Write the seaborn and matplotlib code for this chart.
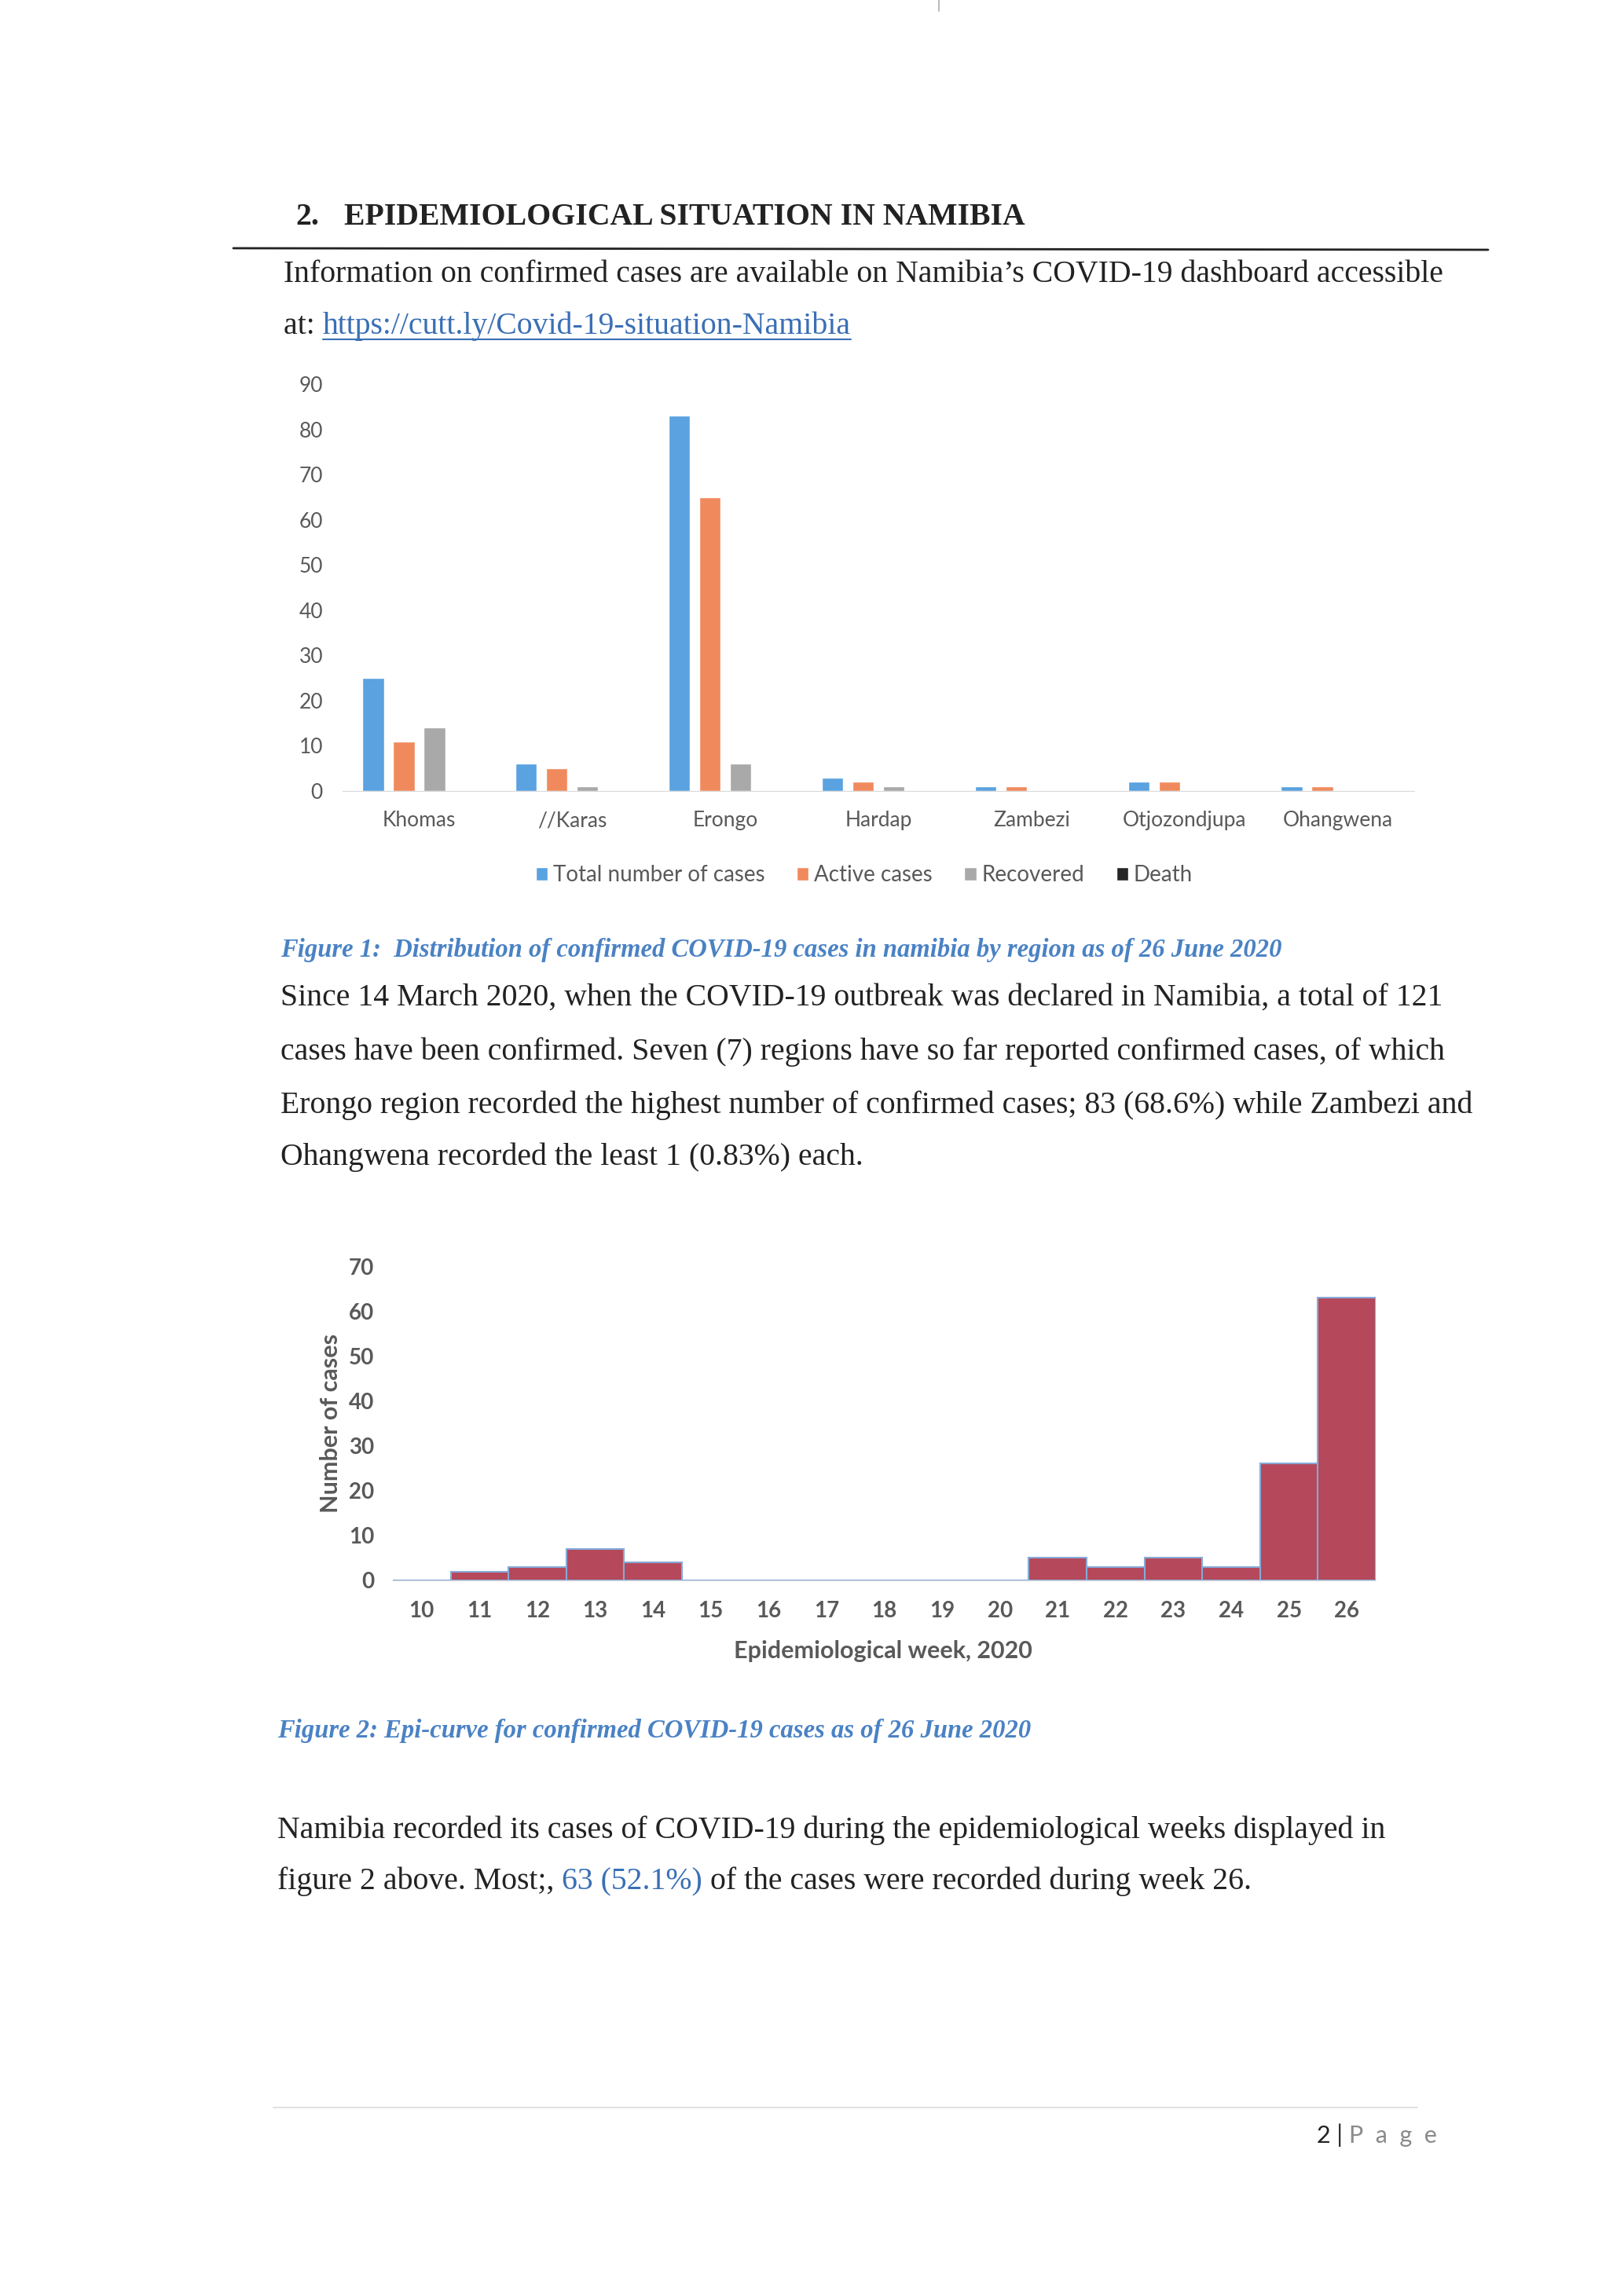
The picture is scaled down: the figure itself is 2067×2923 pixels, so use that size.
import pandas as pd
import matplotlib.pyplot as plt
import seaborn as sns
from matplotlib.lines import Line2D

sns.set_style("white")
plt.rcParams['font.family'] = ['Liberation Serif', 'DejaVu Serif']

# chart 1 data
regions = ["Khomas", "//Karas", "Erongo", "Hardap", "Zambezi", "Otjozondjupa", "Ohangwena"]
series_names = ["Total number of cases", "Active cases", "Recovered", "Death"]
total_cases = [25, 6, 83, 3, 1, 2, 1]
active_cases = [11, 5, 65, 2, 1, 2, 1]
recovered = [14, 1, 6, 1, 0, 0, 0]
deaths = [0, 0, 0, 0, 0, 0, 0]
series_colors = ["#5aa2e0", "#f08a5d", "#a9a9a9", "#262626"]

# chart 2 data
weeks = [10, 11, 12, 13, 14, 15, 16, 17, 18, 19, 20, 21, 22, 23, 24, 25, 26]
week_cases = [0, 2, 3, 7, 4, 0, 0, 0, 0, 0, 0, 5, 3, 5, 3, 26, 63]

W, H = 2067, 2923
fig = plt.figure(figsize=(W / 100, H / 100), dpi=100)
fig.patch.set_facecolor("white")
renderer = fig.canvas.get_renderer()

SERIF = ['Liberation Serif', 'DejaVu Serif']
SANS = ['Lato', 'DejaVu Sans']
GREY = "#595959"
LINK = "#3a6fb5"
CAPTION = "#4a82c4"


def fx(px):
    return px / W


def fy(py):
    return 1 - py / H


def text_w(s, **kw):
    t = fig.text(0, 0, s + "|", **kw)
    w1 = t.get_window_extent(renderer).width
    t.remove()
    t = fig.text(0, 0, "|", **kw)
    w2 = t.get_window_extent(renderer).width
    t.remove()
    return w1 - w2


def runs(x, y, parts, **kw):
    # draws pieces of one line one after another, each in its own colour
    pos = x
    for s, c in parts:
        fig.text(fx(pos), fy(y), s, color=c, va='baseline', ha='left', **kw)
        pos += text_w(s, **kw)
    return pos


body = dict(fontsize=28.6, family=SERIF)

# heading
fig.text(fx(376), fy(286), "2.", fontsize=28.6, family=SERIF, weight='bold', color="#222222", va='baseline')
fig.text(fx(438), fy(286), "EPIDEMIOLOGICAL SITUATION IN NAMIBIA", fontsize=28.6, family=SERIF,
         weight='bold', color="#222222", va='baseline')
fig.add_artist(Line2D([fx(297), fx(1894)], [fy(316), fy(318)], color="#222222", lw=2))
fig.add_artist(Line2D([fx(1195), fx(1195)], [fy(0), fy(14)], color="#bbbbbb", lw=1.5))

fig.text(fx(361), fy(359), "Information on confirmed cases are available on Namibia\u2019s COVID-19 dashboard accessible",
         color="#222222", va='baseline', **body)
x_link = 361 + text_w("at: ", **body)
runs(361, 425, [("at: ", "#222222"), ("https://cutt.ly/Covid-19-situation-Namibia", LINK)], **body)
link_w = text_w("https://cutt.ly/Covid-19-situation-Namibia", **body)
fig.add_artist(Line2D([fx(x_link), fx(x_link + link_w)], [fy(432), fy(432)], color=LINK, lw=1.5))

# chart 1: cases by region
df1 = pd.DataFrame({
    "region": regions * 4,
    "series": [series_names[0]] * 7 + [series_names[1]] * 7 + [series_names[2]] * 7 + [series_names[3]] * 7,
    "value": total_cases + active_cases + recovered + deaths,
})
ax1 = fig.add_axes([fx(436), fy(1007), (1800 - 436) / W, (1007 - 489) / H])
sns.barplot(data=df1, x="region", y="value", hue="series", palette=series_colors, width=0.8, gap=0.3,
            saturation=1, errorbar=None, ax=ax1)
ax1.set_ylim(0, 90)
ax1.set_yticks(range(0, 91, 10))
ax1.set_xlim(-0.5, 6.5)
ax1.set_xlabel("")
ax1.set_ylabel("")
for side in ["top", "right", "left"]:
    ax1.spines[side].set_visible(False)
ax1.spines["bottom"].set_color("#d9d9d9")
ax1.tick_params(axis='both', length=0, labelsize=19, labelcolor=GREY)
ax1.tick_params(axis='y', pad=18)
ax1.tick_params(axis='x', pad=18)
for lab in ax1.get_xticklabels() + ax1.get_yticklabels():
    lab.set_family(SANS)
handles, labels = ax1.get_legend_handles_labels()
ax1.get_legend().remove()
leg = fig.legend(handles, labels, loc='center', bbox_to_anchor=(fx(1100), fy(1114)), ncol=4, frameon=False,
                 prop={'family': SANS, 'size': 20}, handlelength=0.55, handleheight=0.55, handletextpad=0.25,
                 columnspacing=1.45, labelcolor=GREY)

fig.text(fx(357), fy(1218), "Figure 1:  Distribution of confirmed COVID-19 cases in namibia by region as of 26 June 2020",
         fontsize=23.5, family=SERIF, weight='bold', style='italic', color=CAPTION, va='baseline')

para1 = [
    "Since 14 March 2020, when the COVID-19 outbreak was declared in Namibia, a total of 121",
    "cases have been confirmed. Seven (7) regions have so far reported confirmed cases, of which",
    "Erongo region recorded the highest number of confirmed cases; 83 (68.6%) while Zambezi and",
    "Ohangwena recorded the least 1 (0.83%) each.",
]
for line, yb in zip(para1, [1280, 1349, 1417, 1483]):
    fig.text(fx(357), fy(yb), line, color="#222222", va='baseline', **body)

# chart 2: epi-curve
ax2 = fig.add_axes([fx(500), fy(2012), (1751 - 500) / W, (2012 - 1612) / H])
sns.barplot(x=weeks, y=week_cases, width=1.0, color="#b5485a", edgecolor="#86aad8", linewidth=1.5,
            saturation=1, errorbar=None, ax=ax2)
ax2.set_ylim(0, 70)
ax2.set_yticks(range(0, 71, 10))
ax2.set_xlim(-0.5, 16.5)
for side in ["top", "right", "left"]:
    ax2.spines[side].set_visible(False)
ax2.spines["bottom"].set_color("#d9d9d9")
ax2.tick_params(axis='both', length=0, labelsize=20, labelcolor=GREY)
ax2.tick_params(axis='y', pad=17)
ax2.tick_params(axis='x', pad=19)
for lab in ax2.get_xticklabels() + ax2.get_yticklabels():
    lab.set_family(SANS)
    lab.set_weight('bold')
ax2.set_xlabel("Epidemiological week, 2020", fontsize=22, family=SANS, weight='bold', color=GREY)
ax2.set_ylabel("Number of cases", fontsize=22, family=SANS, weight='bold', color=GREY)
ax2.xaxis.set_label_coords(0.499, -0.19)
ax2.yaxis.set_label_coords(-0.052, 0.5)

fig.text(fx(353), fy(2212), "Figure 2: Epi-curve for confirmed COVID-19 cases as of 26 June 2020",
         fontsize=23.5, family=SERIF, weight='bold', style='italic', color=CAPTION, va='baseline')

fig.text(fx(353), fy(2340), "Namibia recorded its cases of COVID-19 during the epidemiological weeks displayed in",
         color="#222222", va='baseline', **body)
runs(353, 2405, [("figure 2 above. Most;, ", "#222222"), ("63 (52.1%)", LINK),
                 (" of the cases were recorded during week 26.", "#222222")], **body)

# footer
fig.add_artist(Line2D([fx(348), fx(1804)], [fy(2683), fy(2683)], color="#e2e2e2", lw=1.5))
runs(1676, 2728, [("2 | ", "#222222"), ("P  a  g  e", "#8a8a8a")], fontsize=22, family=SANS)

fig.savefig("out.png", dpi=100, facecolor="white")
